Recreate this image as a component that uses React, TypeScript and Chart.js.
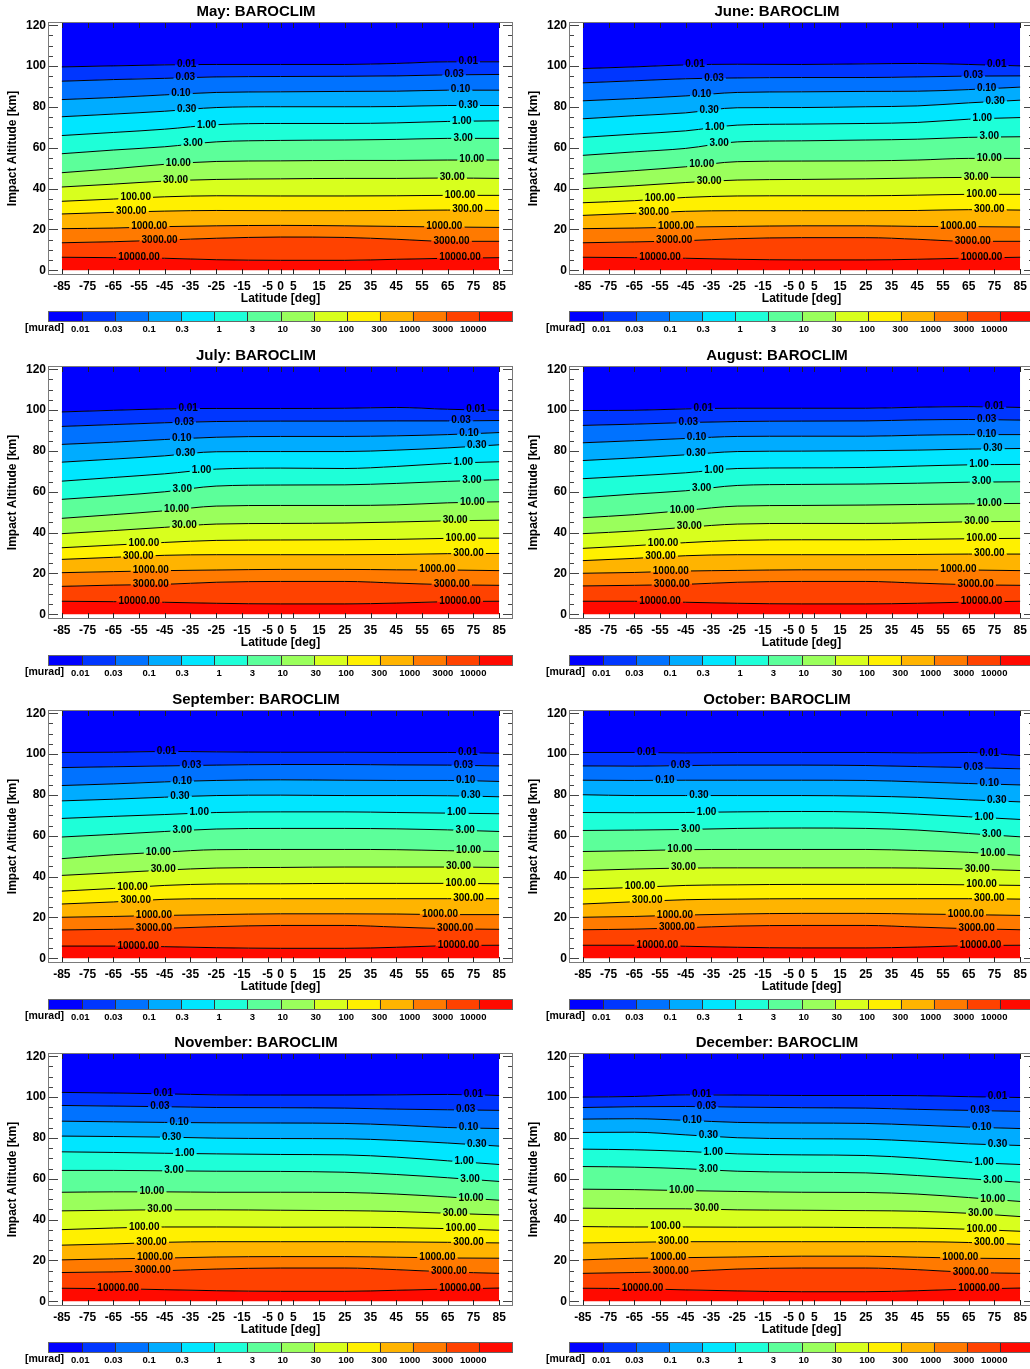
import React, { useEffect, useRef } from 'react';
import { Chart, registerables } from 'chart.js';

Chart.register(...registerables);

const FONT = '"Liberation Sans", Arial, Helvetica, sans-serif';

// Latitudes at which the contour altitudes were read
const LATS = [-85, -65, -45, -25, 0, 25, 45, 65, 85];
const X_TICKS = [-85, -75, -65, -55, -45, -35, -25, -15, -5, 0, 5, 15, 25, 35, 45, 55, 65, 75, 85];
const Y_TICKS = [0, 20, 40, 60, 80, 100, 120];
const Y_MIN = -1.8;
const Y_MAX = 121.1;
const X_MIN = -90;
const X_MAX = 90;

const LEVEL_LABELS = ['0.01', '0.03', '0.10', '0.30', '1.00', '3.00', '10.00', '30.00', '100.00', '300.00', '1000.00', '3000.00', '10000.00'];
const CBAR_LABELS = ['0.01', '0.03', '0.1', '0.3', '1', '3', '10', '30', '100', '300', '1000', '3000', '10000'];
const UNIT = '[murad]';

const COLORS = [
  '#0000ff', '#0036ff', '#0072ff', '#00acff', '#00e6ff', '#1effd8', '#5cff9a',
  '#9aff5c', '#d8ff1e', '#fff000', '#ffb400', '#ff7a00', '#ff4200', '#ff0a00',
];

// Contour altitudes [km] per level (0.01 ... 10000 murad) at LATS
const MAY = [
  [99.6, 100.1, 100.6, 100.8, 100.8, 100.8, 101.3, 102.1, 102.1],
  [92.6, 93.4, 94.0, 94.7, 94.9, 95.0, 95.2, 95.7, 95.9],
  [83.6, 84.6, 85.9, 87.1, 87.4, 87.6, 87.7, 88.2, 88.2],
  [75.2, 76.5, 77.9, 79.7, 80.1, 80.1, 80.2, 80.7, 80.7],
  [66.0, 67.5, 69.1, 71.3, 71.9, 71.9, 72.2, 72.9, 73.2],
  [57.1, 58.9, 60.5, 62.9, 63.6, 63.8, 64.1, 64.6, 64.6],
  [47.8, 49.7, 51.9, 53.3, 53.6, 53.8, 53.8, 54.0, 54.0],
  [40.8, 42.2, 43.7, 44.5, 44.8, 45.0, 45.0, 45.2, 45.0],
  [33.8, 34.9, 36.0, 36.5, 36.4, 36.4, 36.5, 36.7, 36.7],
  [27.6, 28.4, 29.0, 29.3, 29.2, 29.2, 29.3, 29.5, 29.3],
  [20.4, 20.7, 21.4, 21.8, 22.0, 21.8, 21.5, 21.2, 21.0],
  [13.5, 14.0, 14.8, 15.7, 16.3, 16.1, 15.2, 14.2, 14.2],
  [6.4, 6.2, 5.9, 5.2, 4.9, 4.9, 5.4, 5.9, 6.2],
];
const MAY_LABEL_LATS = [[-36.5, 73], [-37, 67.5], [-38.7, 70], [-36.5, 73], [-28.7, 70.5], [-34, 71], [-39.7, 74.4], [-40.8, 66.8], [-56.3, 69.8], [-58, 72.7], [-51, 63.7], [-47, 66.5], [-55, 69.8]];

const JUNE = [
  [98.8, 99.6, 100.6, 100.9, 100.8, 101.1, 101.3, 100.8, 100.1],
  [91.8, 92.8, 93.8, 94.2, 94.4, 94.4, 94.7, 95.1, 95.2],
  [83.0, 84.1, 85.4, 87.1, 87.4, 87.6, 87.7, 88.5, 89.7],
  [74.2, 75.7, 77.1, 79.6, 79.7, 80.1, 80.5, 82.0, 83.3],
  [65.1, 66.7, 68.3, 71.1, 71.6, 71.9, 72.4, 74.0, 74.8],
  [56.3, 58.0, 59.7, 62.9, 63.4, 63.8, 64.2, 65.1, 65.4],
  [47.1, 48.8, 50.7, 53.2, 53.5, 53.6, 54.0, 54.8, 54.8],
  [40.0, 41.4, 43.0, 44.2, 44.5, 44.8, 45.2, 45.5, 45.5],
  [33.1, 34.1, 35.7, 36.4, 36.5, 36.5, 36.8, 37.2, 37.2],
  [26.9, 27.9, 28.9, 29.2, 29.2, 29.2, 29.3, 29.7, 29.5],
  [20.4, 20.7, 21.2, 21.5, 21.8, 21.8, 21.5, 21.4, 21.2],
  [13.5, 13.9, 14.5, 15.5, 16.0, 16.0, 15.2, 14.2, 14.2],
  [6.4, 6.2, 5.9, 5.4, 5.1, 5.1, 5.4, 6.0, 6.4],
];
const JUNE_LABEL_LATS = [[-41.4, 75.9], [-34, 66.8], [-38.8, 72], [-35.9, 75.3], [-33.7, 70.3], [-32, 73], [-38.8, 73], [-35.9, 67.9], [-55, 70], [-57.4, 73], [-48.8, 61], [-49.5, 66.6], [-55, 70]];

const JULY = [
  [99.1, 99.9, 100.6, 100.8, 100.8, 100.9, 101.3, 100.4, 99.9],
  [92.0, 92.9, 93.8, 94.4, 94.6, 94.6, 94.7, 94.7, 94.9],
  [83.2, 84.3, 85.6, 86.7, 87.1, 87.1, 87.4, 88.0, 89.0],
  [74.5, 76.0, 77.6, 79.6, 79.7, 79.7, 80.4, 81.5, 83.0],
  [65.2, 67.0, 68.8, 71.1, 71.6, 71.4, 72.4, 73.9, 74.7],
  [56.3, 58.0, 60.0, 62.8, 63.3, 63.4, 64.1, 65.1, 65.9],
  [47.0, 48.8, 50.7, 53.0, 53.3, 53.3, 53.6, 54.6, 55.1],
  [39.5, 41.0, 42.6, 44.2, 44.5, 44.7, 45.2, 45.8, 46.1],
  [32.6, 33.9, 35.2, 36.2, 36.4, 36.5, 36.7, 37.2, 37.3],
  [26.9, 27.9, 28.9, 29.2, 29.2, 29.2, 29.3, 29.7, 29.8],
  [20.4, 20.9, 21.4, 21.7, 22.0, 22.0, 21.8, 21.7, 21.4],
  [13.7, 14.3, 14.7, 15.7, 16.1, 16.1, 15.3, 14.5, 14.2],
  [6.4, 6.2, 5.9, 5.4, 5.1, 5.1, 5.5, 6.2, 6.4],
];
const JULY_LABEL_LATS = [[-35.9, 76], [-37.4, 70.2], [-38.4, 73.3], [-36.9, 76.3], [-30.7, 71.1], [-38.2, 74.4], [-40.4, 74.6], [-37.4, 67.9], [-53.1, 70.1], [-55.3, 73.1], [-50.4, 61], [-50.4, 66.6], [-54.9, 69.8]];

const AUGUST = [
  [99.8, 99.9, 100.6, 100.9, 100.9, 100.9, 101.4, 101.7, 101.3],
  [92.5, 93.1, 93.9, 94.4, 94.6, 94.7, 95.2, 95.4, 95.1],
  [84.0, 85.0, 86.1, 87.1, 87.2, 87.2, 87.7, 88.0, 88.0],
  [75.3, 76.6, 78.1, 79.7, 79.9, 80.1, 80.4, 80.9, 81.2],
  [66.4, 67.8, 69.3, 71.4, 71.7, 71.9, 72.6, 73.2, 73.4],
  [57.1, 58.9, 60.5, 63.1, 63.6, 63.8, 64.2, 64.7, 64.9],
  [47.3, 48.8, 50.9, 53.0, 53.3, 53.5, 53.8, 54.1, 54.3],
  [39.5, 40.8, 42.6, 44.2, 44.5, 44.5, 44.8, 45.3, 45.5],
  [32.3, 33.6, 35.1, 36.2, 36.5, 36.5, 36.7, 37.0, 37.2],
  [26.3, 27.4, 28.7, 29.2, 29.2, 29.2, 29.3, 29.5, 29.5],
  [20.1, 20.5, 21.2, 21.5, 21.8, 21.8, 21.8, 21.7, 21.4],
  [13.9, 14.2, 14.7, 15.7, 16.1, 16.1, 15.3, 14.5, 14.2],
  [6.4, 6.4, 5.9, 5.4, 5.1, 5.1, 5.4, 6.0, 6.4],
];
const AUGUST_LABEL_LATS = [[-38.2, 75], [-44, 72], [-40.8, 72], [-41, 74.4], [-34, 69], [-38.8, 70], [-46.4, 73], [-43.6, 68.1], [-53.8, 70], [-54.8, 73], [-50.8, 61], [-50.4, 67.7], [-55, 70]];

const SEPTEMBER = [
  [100.8, 100.9, 101.3, 101.1, 100.9, 100.9, 100.8, 100.8, 100.4],
  [93.4, 93.8, 94.2, 94.6, 94.9, 94.9, 94.7, 94.6, 94.2],
  [84.6, 85.4, 86.4, 87.1, 87.4, 87.2, 87.1, 87.1, 86.6],
  [77.1, 77.9, 78.9, 79.7, 79.9, 79.7, 79.7, 79.6, 79.1],
  [68.5, 69.5, 70.4, 71.4, 71.7, 71.7, 71.4, 71.1, 70.8],
  [59.4, 60.7, 62.1, 63.3, 63.6, 63.6, 63.4, 62.9, 62.1],
  [48.8, 50.7, 52.0, 53.2, 53.3, 53.3, 53.2, 52.7, 52.3],
  [40.6, 41.9, 43.2, 44.2, 44.5, 44.7, 44.7, 44.7, 44.5],
  [32.9, 34.2, 35.7, 36.4, 36.5, 36.7, 36.7, 36.7, 36.5],
  [26.6, 27.6, 28.9, 29.2, 29.2, 29.2, 29.2, 29.2, 29.2],
  [20.1, 20.5, 21.0, 21.4, 21.8, 21.8, 21.7, 21.4, 21.4],
  [13.9, 14.2, 14.7, 15.5, 16.1, 16.1, 15.3, 14.5, 14.2],
  [6.0, 6.0, 5.7, 5.2, 4.9, 4.9, 5.4, 6.2, 6.4],
];
const SEPTEMBER_LABEL_LATS = [[-44.3, 72.8], [-34.6, 71.1], [-38.2, 72], [-39.1, 74], [-31.6, 68.5], [-38.2, 71.8], [-47.5, 73.1], [-45.6, 69.2], [-57.5, 70.1], [-56.3, 73.1], [-49.2, 62], [-49.2, 67.9], [-55.3, 69.2]];

const OCTOBER = [
  [100.8, 100.8, 100.6, 100.8, 100.8, 100.8, 100.6, 100.8, 99.3],
  [94.2, 94.1, 94.4, 94.6, 94.6, 94.4, 93.9, 93.4, 92.8],
  [87.2, 87.1, 87.2, 87.2, 87.2, 87.1, 86.4, 85.6, 84.9],
  [80.1, 79.7, 79.7, 79.7, 79.7, 79.4, 78.8, 77.6, 76.6],
  [71.4, 71.3, 71.4, 71.7, 71.9, 71.6, 70.6, 69.3, 68.0],
  [62.6, 62.8, 63.1, 63.6, 63.8, 63.6, 62.8, 61.1, 59.5],
  [52.3, 52.7, 53.2, 53.3, 53.3, 53.3, 52.8, 51.9, 50.4],
  [43.0, 43.7, 44.2, 44.3, 44.3, 44.3, 44.2, 43.7, 43.0],
  [33.9, 34.7, 35.7, 36.0, 36.2, 36.2, 36.2, 36.0, 35.7],
  [26.6, 27.7, 28.7, 29.0, 29.2, 29.2, 29.2, 29.2, 29.0],
  [20.1, 20.5, 21.2, 21.7, 22.0, 22.0, 21.7, 21.4, 21.0],
  [14.0, 14.3, 15.0, 15.8, 16.1, 16.1, 15.3, 14.5, 14.0],
  [6.4, 6.4, 5.9, 5.4, 5.1, 5.1, 5.5, 6.2, 6.4],
];
const OCTOBER_LABEL_LATS = [[-60.2, 73], [-47, 66.8], [-53.1, 73], [-39.9, 75.9], [-36.9, 71], [-43.1, 74], [-47.3, 74.4], [-45.9, 68.3], [-62.8, 70], [-60, 73], [-49.2, 63.9], [-48.4, 68.1], [-56, 69.6]];

const NOVEMBER = [
  [102.3, 102.0, 101.6, 101.1, 101.0, 101.0, 101.1, 101.3, 100.8],
  [95.9, 95.6, 95.3, 94.9, 94.8, 94.6, 94.1, 93.8, 93.5],
  [88.2, 87.9, 87.6, 87.4, 87.3, 87.1, 86.3, 85.1, 84.6],
  [80.9, 80.7, 80.4, 79.9, 79.7, 79.6, 78.8, 77.5, 76.0],
  [73.2, 72.9, 72.5, 72.2, 71.9, 71.7, 70.6, 68.8, 67.0],
  [64.1, 64.1, 63.9, 63.7, 63.6, 63.2, 62.1, 60.5, 58.7],
  [53.4, 53.6, 53.6, 53.4, 53.4, 53.3, 52.5, 51.1, 49.5],
  [44.3, 44.6, 44.8, 44.8, 44.6, 44.4, 44.0, 43.1, 42.3],
  [35.1, 35.9, 36.4, 36.4, 36.3, 36.3, 36.1, 35.6, 34.8],
  [27.5, 28.1, 28.9, 29.2, 29.2, 29.2, 29.1, 28.9, 28.6],
  [20.3, 20.8, 21.2, 21.7, 21.9, 21.9, 21.6, 21.2, 21.1],
  [14.1, 14.4, 15.0, 15.8, 16.3, 16.3, 15.5, 14.4, 13.7],
  [6.4, 6.2, 5.7, 5.2, 4.9, 4.9, 5.4, 6.0, 6.5],
];
const NOVEMBER_LABEL_LATS = [[-45.6, 75], [-46.9, 72], [-39.4, 73.1], [-42.3, 76.3], [-37.2, 71.4], [-41.4, 73.7], [-50, 74.1], [-46.9, 67.9], [-53, 70.1], [-50.1, 73.1], [-48.8, 61], [-49.7, 65.5], [-63.1, 69.8]];

const DECEMBER = [
  [100.0, 100.3, 101.1, 101.0, 100.8, 100.8, 100.7, 100.2, 99.8],
  [94.9, 95.3, 95.4, 95.1, 94.8, 94.6, 94.0, 93.5, 93.0],
  [89.2, 89.4, 88.6, 87.6, 87.3, 87.1, 86.3, 85.3, 84.6],
  [82.7, 82.8, 81.5, 80.1, 79.6, 79.4, 78.4, 77.1, 76.3],
  [74.5, 74.2, 73.4, 72.2, 71.7, 71.4, 70.1, 68.1, 67.0],
  [66.0, 65.7, 64.9, 63.7, 63.2, 62.9, 61.6, 60.0, 58.3],
  [54.9, 54.7, 54.2, 53.8, 53.4, 53.3, 52.5, 50.8, 48.9],
  [45.6, 45.4, 45.3, 44.8, 44.6, 44.4, 44.1, 43.1, 41.5],
  [36.6, 36.4, 36.4, 36.3, 36.3, 36.1, 35.9, 35.3, 34.3],
  [28.6, 28.9, 29.2, 29.2, 29.2, 29.2, 29.2, 28.8, 27.9],
  [20.3, 21.1, 21.4, 21.7, 22.1, 22.1, 21.6, 21.1, 20.9],
  [13.7, 14.1, 14.7, 15.8, 16.3, 16.3, 15.5, 14.2, 13.7],
  [6.4, 6.2, 5.6, 5.1, 4.7, 4.7, 5.2, 6.0, 6.5],
];
const DECEMBER_LABEL_LATS = [[-38.8, 76.2], [-36.9, 69.4], [-42.5, 70.1], [-36.2, 76.2], [-34.3, 71], [-36.2, 74.4], [-46.6, 74.4], [-36.9, 69.6], [-52.9, 70.1], [-49.8, 73], [-51.8, 61.7], [-50.8, 65.8], [-61.8, 69]];

const PANELS = [
  { title: 'May: BAROCLIM', levels: MAY, labelLats: MAY_LABEL_LATS },
  { title: 'June: BAROCLIM', levels: JUNE, labelLats: JUNE_LABEL_LATS },
  { title: 'July: BAROCLIM', levels: JULY, labelLats: JULY_LABEL_LATS },
  { title: 'August: BAROCLIM', levels: AUGUST, labelLats: AUGUST_LABEL_LATS },
  { title: 'September: BAROCLIM', levels: SEPTEMBER, labelLats: SEPTEMBER_LABEL_LATS },
  { title: 'October: BAROCLIM', levels: OCTOBER, labelLats: OCTOBER_LABEL_LATS },
  { title: 'November: BAROCLIM', levels: NOVEMBER, labelLats: NOVEMBER_LABEL_LATS },
  { title: 'December: BAROCLIM', levels: DECEMBER, labelLats: DECEMBER_LABEL_LATS },
];

const ROW_TOPS = [0, 344, 688, 1031];
const COL_LEFTS = [0, 521];
const CANVAS_W = 520;
const CANVAS_H = 344;

function interp(xs: number[], ys: number[], x: number): number {
  if (x <= xs[0]) return ys[0];
  for (let i = 1; i < xs.length; i++) {
    if (x <= xs[i]) {
      const t = (x - xs[i - 1]) / (xs[i] - xs[i - 1]);
      return ys[i - 1] + t * (ys[i] - ys[i - 1]);
    }
  }
  return ys[ys.length - 1];
}

function Panel(props: { title: string; levels: number[][]; labelLats: number[][]; left: number; top: number }) {
  const { title, levels, labelLats, left, top } = props;
  const ref = useRef<HTMLCanvasElement | null>(null);

  useEffect(() => {
    const canvas = ref.current;
    if (!canvas) return;

    const datasets: any[] = [];
    datasets.push({
      data: LATS.map((lat) => ({ x: lat, y: Y_MAX })),
      borderColor: 'rgba(0,0,0,0)',
      borderWidth: 0,
      pointRadius: 0,
      fill: false,
    });
    levels.forEach((alts, i) => {
      datasets.push({
        data: LATS.map((lat, j) => ({ x: lat, y: alts[j] })),
        borderColor: '#000000',
        borderWidth: 1,
        backgroundColor: COLORS[i],
        fill: '-1',
        pointRadius: 0,
        cubicInterpolationMode: 'monotone',
      });
    });
    datasets.push({
      data: LATS.map((lat) => ({ x: lat, y: 0 })),
      borderColor: 'rgba(0,0,0,0)',
      borderWidth: 0,
      backgroundColor: COLORS[13],
      fill: '-1',
      pointRadius: 0,
    });

    const contourLabels = {
      id: 'contourLabels',
      afterDatasetsDraw(chart: any) {
        const { ctx } = chart;
        const xs = chart.scales.x;
        const ys = chart.scales.y;
        ctx.save();
        ctx.font = `bold 10px ${FONT}`;
        ctx.textAlign = 'center';
        ctx.textBaseline = 'middle';
        levels.forEach((alts, i) => {
          labelLats[i].forEach((lat) => {
            const text = LEVEL_LABELS[i];
            const w = ctx.measureText(text).width;
            const cx = xs.getPixelForValue(lat);
            const half = w / 2 + 2;
            const x1 = cx - half;
            const x2 = cx + half;
            const yL = ys.getPixelForValue(interp(LATS, alts, xs.getValueForPixel(x1)));
            const yR = ys.getPixelForValue(interp(LATS, alts, xs.getValueForPixel(x2)));
            const yC = ys.getPixelForValue(interp(LATS, alts, lat));
            ctx.fillStyle = COLORS[i];
            ctx.beginPath();
            ctx.moveTo(x1, yL - 3.5);
            ctx.lineTo(x2, yR - 3.5);
            ctx.lineTo(x2, yR + 1);
            ctx.lineTo(x1, yL + 1);
            ctx.closePath();
            ctx.fill();
            ctx.fillStyle = COLORS[i + 1];
            ctx.beginPath();
            ctx.moveTo(x1, yL);
            ctx.lineTo(x2, yR);
            ctx.lineTo(x2, yR + 3.5);
            ctx.lineTo(x1, yL + 3.5);
            ctx.closePath();
            ctx.fill();
            ctx.fillStyle = '#000000';
            ctx.fillText(text, cx, yC - 0.5);
          });
        });
        ctx.restore();
      },
    };

    const decorations = {
      id: 'decorations',
      afterDraw(chart: any) {
        const { ctx, chartArea } = chart;
        const xs = chart.scales.x;
        const ys = chart.scales.y;
        const l = chartArea.left;
        const r = chartArea.right;
        const t = chartArea.top;
        const b = chartArea.bottom;
        ctx.save();
        // frame
        ctx.strokeStyle = '#7a7a7a';
        ctx.lineWidth = 1;
        ctx.strokeRect(Math.round(l) - 0.5, Math.round(t) - 0.5, Math.round(r - l) + 1, Math.round(b - t) + 1);
        // y ticks (left and right, inward)
        ctx.strokeStyle = '#444444';
        ctx.beginPath();
        for (let v = 0; v <= 120; v += 5) {
          const py = Math.round(ys.getPixelForValue(v)) + 0.5;
          const len = v % 20 === 0 ? 9 : 4;
          ctx.moveTo(l, py);
          ctx.lineTo(l + len, py);
          ctx.moveTo(r, py);
          ctx.lineTo(r - len, py);
        }
        ctx.stroke();
        // x ticks (top and bottom, inward)
        ctx.strokeStyle = '#222222';
        ctx.beginPath();
        X_TICKS.forEach((v) => {
          const px = Math.round(xs.getPixelForValue(v)) + 0.5;
          ctx.moveTo(px, b);
          ctx.lineTo(px, b - 5);
          ctx.moveTo(px, t);
          ctx.lineTo(px, t + 5);
        });
        ctx.stroke();

        // colour bar
        const cbTop = 312;
        const cbH = 9;
        const segW = (r - l) / COLORS.length;
        COLORS.forEach((c, k) => {
          ctx.fillStyle = c;
          ctx.fillRect(l + k * segW, cbTop, segW + 0.5, cbH);
        });
        ctx.strokeStyle = '#333333';
        ctx.beginPath();
        for (let k = 1; k < COLORS.length; k++) {
          const px = Math.round(l + k * segW) + 0.5;
          ctx.moveTo(px, cbTop);
          ctx.lineTo(px, cbTop + cbH);
        }
        ctx.stroke();
        ctx.strokeStyle = '#666666';
        ctx.strokeRect(Math.round(l) - 0.5, cbTop - 0.5, Math.round(r - l) + 1, cbH + 1);

        ctx.fillStyle = '#000000';
        ctx.textBaseline = 'middle';
        ctx.textAlign = 'right';
        ctx.font = `bold 9.5px ${FONT}`;
        CBAR_LABELS.forEach((txt, k) => {
          ctx.fillText(txt, l + (k + 1) * segW + 7.5, 329);
        });
        ctx.textAlign = 'left';
        ctx.font = `bold 10.5px ${FONT}`;
        ctx.fillText(UNIT, 25, 328);
        ctx.restore();
      },
    };

    const chart = new Chart(canvas, {
      type: 'line',
      data: { datasets },
      options: {
        responsive: false,
        maintainAspectRatio: false,
        animation: false,
        devicePixelRatio: 1,
        events: [],
        layout: { padding: { left: 0, right: 8, top: 0, bottom: 0 } },
        plugins: {
          legend: { display: false },
          tooltip: { enabled: false },
          filler: { drawTime: 'beforeDatasetsDraw', propagate: false },
          title: {
            display: true,
            text: title,
            color: '#000000',
            font: { family: FONT, size: 15, weight: 'bold' },
            padding: { top: 3, bottom: 2 },
          },
        },
        scales: {
          x: {
            type: 'linear',
            min: X_MIN,
            max: X_MAX,
            grid: { display: false, drawTicks: false },
            border: { display: false },
            afterBuildTicks: (scale: any) => {
              scale.ticks = X_TICKS.map((v) => ({ value: v }));
            },
            afterFit: (scale: any) => {
              scale.height = 70;
            },
            ticks: {
              autoSkip: false,
              maxRotation: 0,
              minRotation: 0,
              padding: 5,
              color: '#000000',
              font: { family: FONT, size: 12, weight: 'bold' },
              callback: (v: any) => String(v),
            },
            title: {
              display: true,
              text: 'Latitude [deg]',
              color: '#000000',
              font: { family: FONT, size: 12, weight: 'bold' },
              padding: { top: 0, bottom: 38.3 },
            },
          },
          y: {
            type: 'linear',
            min: Y_MIN,
            max: Y_MAX,
            grid: { display: false, drawTicks: false },
            border: { display: false },
            afterBuildTicks: (scale: any) => {
              scale.ticks = Y_TICKS.map((v) => ({ value: v }));
            },
            afterFit: (scale: any) => {
              scale.width = 49;
            },
            ticks: {
              padding: 3,
              color: '#000000',
              font: { family: FONT, size: 12, weight: 'bold' },
              callback: (v: any) => String(v),
            },
            title: {
              display: true,
              text: 'Impact Altitude [km]',
              color: '#000000',
              font: { family: FONT, size: 12, weight: 'bold' },
              padding: { top: 5.5, bottom: 0 },
            },
          },
        },
      } as any,
      plugins: [contourLabels, decorations],
    });

    return () => {
      chart.destroy();
    };
  }, [title, levels, labelLats]);

  return (
    <div style={{ position: 'absolute', left, top, width: CANVAS_W, height: CANVAS_H }}>
      <canvas ref={ref} width={CANVAS_W} height={CANVAS_H} style={{ width: CANVAS_W, height: CANVAS_H, display: 'block' }} />
    </div>
  );
}

export default function App() {
  return (
    <div
      style={{
        position: 'absolute',
        left: 0,
        top: 0,
        width: 1030,
        height: 1369,
        overflow: 'hidden',
        background: '#ffffff',
      }}
    >
      {PANELS.map((p, idx) => (
        <Panel
          key={p.title}
          title={p.title}
          levels={p.levels}
          labelLats={p.labelLats}
          left={COL_LEFTS[idx % 2]}
          top={ROW_TOPS[Math.floor(idx / 2)]}
        />
      ))}
    </div>
  );
}
